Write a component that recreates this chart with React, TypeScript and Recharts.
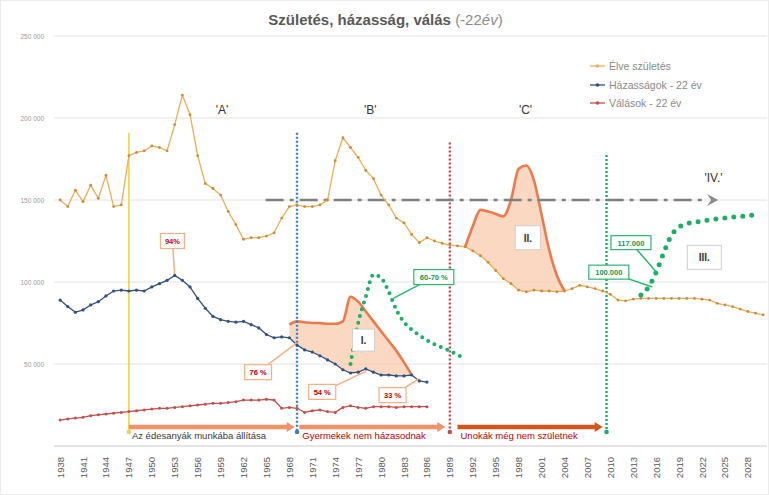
import React from 'react';
import { ComposedChart, Line, Area, XAxis, YAxis, CartesianGrid, ReferenceLine, ReferenceDot, Legend } from 'recharts';

const years = [1938,1939,1940,1941,1942,1943,1944,1945,1946,1947,1948,1949,1950,1951,1952,1953,1954,1955,1956,1957,1958,1959,1960,1961,1962,1963,1964,1965,1966,1967,1968,1969,1970,1971,1972,1973,1974,1975,1976,1977,1978,1979,1980,1981,1982,1983,1984,1985,1986,1987,1988,1989,1990,1991,1992,1993,1994,1995,1996,1997,1998,1999,2000,2001,2002,2003,2004,2005,2006,2007,2008,2009,2010,2011,2012,2013,2014,2015,2016,2017,2018,2019,2020,2021,2022,2023,2024,2025,2026,2027,2028,2029,2030];

const births = [150000,146000,156000,149000,159000,151000,165000,146000,147000,177000,179000,180000,183000,182000,180000,196000,214000,202000,177000,160000,157000,153000,143000,135000,126000,127000,127000,128000,130000,139000,146000,147000,146000,146000,147000,150000,174000,188000,182000,176000,168000,163000,153000,147000,139000,136000,129000,124000,127000,125000,123500,122500,122000,121500,119000,116000,112000,107000,102000,99000,95000,94000,95000,94500,94500,94000,94500,96000,98000,97000,96000,94500,92500,89000,88500,89500,90000,90000,90000,90000,90000,90000,90000,90000,89500,89000,87000,86000,85000,83500,82000,81000,80000];

const marriages = [89000,85000,81500,83000,86000,88000,91500,94500,95000,94500,95000,94500,97000,99000,101000,104000,101000,97000,90000,84000,79000,77000,76000,75500,76000,74000,72000,68000,66000,66500,66000,61600,58600,57300,55000,52500,50000,46500,44500,45000,47000,45000,43300,43300,42700,42700,43300,39700,39000];

const divorces = [15800,16500,17000,17500,18500,19000,19500,20000,20500,21000,21500,22000,22500,23000,23000,23500,24000,24500,25000,25500,26000,26000,26500,27000,28000,28000,28000,28500,28000,23000,23500,23000,20500,21500,22000,21000,20500,23500,24500,23500,23000,24000,24000,24000,23500,24000,24000,24000,24000];

const green1Years = [1976,1977,1978,1979,1980,1981,1982,1983,1984,1985,1986,1987,1988,1989,1990,1991];
const green1 = [50000,75000,91000,104500,102500,94000,83000,75500,71000,67500,64500,62000,60000,58000,55500,53500];

const green2Years = [2014,2015,2016,2017,2018,2019,2020,2021,2022,2023,2024,2025,2026,2027,2028,2029];
const green2 = [92000,97000,106000,118000,128500,133500,135500,136500,137000,138000,138500,139000,139500,140000,140500,141000];

const zone1Years = [1968,1969,1970,1971,1972,1973,1974,1975,1976,1977,1978,1979,1980,1981,1982,1983,1984];
const zone1Top = [74000,76000,75500,75000,75000,74500,74500,76000,91000,88000,82000,76000,70000,64000,58000,51000,43300];

const zone2Years = [1991,1992,1993,1994,1995,1996,1997,1998,1999,2000,2001,2002,2003,2004];
const zone2Top = [121500,134000,144000,143000,141500,140000,150000,169000,171000,162000,141000,119500,104000,94500];

const xTicks = [1938,1941,1944,1947,1950,1953,1956,1959,1962,1965,1968,1971,1974,1977,1980,1983,1986,1989,1992,1995,1998,2001,2004,2007,2010,2013,2016,2019,2022,2025,2028];
const yTicks = [0,50000,100000,150000,200000,250000];

const legendItems = [
  { label: 'Élve születés', color: '#EBAE5A' },
  { label: 'Házasságok - 22 év', color: '#34507F' },
  { label: 'Válások - 22 év', color: '#C0504D' },
];

const phaseLabels = [
  { text: "'A'", year: 1959.2, value: 205000 },
  { text: "'B'", year: 1978.6, value: 205000 },
  { text: "'C'", year: 1998.9, value: 205000 },
  { text: "'IV.'", year: 2023.5, value: 163500 },
];

const verticalMarkers = [
  { year: 1947, top: 191000, bottom: 8500, color: '#F5D245', dash: undefined },
  { year: 1969, top: 191000, bottom: 8500, color: '#3F7FC0', dash: '2 2' },
  { year: 1989, top: 185000, bottom: 8500, color: '#C0504D', dash: '2 2' },
  { year: 2009.5, top: 177500, bottom: 8500, color: '#1DAA64', dash: '2 2' },
];

const bottomArrows = [
  { from: 1947, to: 1968.7, value: 11600, color: '#F0916A', text: 'Az édesanyák munkába állítása', textColor: '#3a3a3a' },
  { from: 1969.3, to: 1988.4, value: 11600, color: '#F0916A', text: 'Gyermekek nem házasodnak', textColor: '#C00000' },
  { from: 1990, to: 2009, value: 11600, color: '#D4561C', text: 'Unokák még nem születnek', textColor: '#C00000' },
];

const callouts = [
  { text: '94%', year: 1953, value: 104000, boxYear: 1952.7, boxValue: 125000, w: 24, h: 15, color: '#C00000', border: '#F4B183' },
  { text: '76 %', year: 1969, value: 63000, boxYear: 1963.9, boxValue: 45000, w: 27, h: 15, color: '#C00000', border: '#F4B183' },
  { text: '54 %', year: 1978, value: 45500, boxYear: 1972.3, boxValue: 33000, w: 27, h: 15, color: '#C00000', border: '#F4B183' },
  { text: '33 %', year: 1985, value: 41000, boxYear: 1981.5, boxValue: 31000, w: 27, h: 15, color: '#C00000', border: '#F4B183' },
  { text: '60-70 %', year: 1981.6, value: 90000, boxYear: 1986.9, boxValue: 103000, w: 40, h: 15, color: '#0E9A55', border: '#2DB56F' },
  { text: '117.000', year: 2016.2, value: 105000, boxYear: 2012.7, boxValue: 124000, w: 40, h: 14, color: '#0E9A55', border: '#2DB56F' },
  { text: '100.000', year: 2015.5, value: 97000, boxYear: 2009.8, boxValue: 106000, w: 40, h: 14, color: '#0E9A55', border: '#2DB56F' },
];

const zoneLabels = [
  { text: 'I.', year: 1977.7, value: 64600, w: 22, h: 22 },
  { text: 'II.', year: 1999.2, value: 127000, w: 25, h: 24 },
  { text: 'III.', year: 2022.3, value: 115000, w: 34, h: 24 },
];

const fmt = (v: number) => (v === 0 ? '' : String(v).replace(/\B(?=(\d{3})+(?!\d))/g, ' '));

const data = years.map((year, i) => {
  const row: any = { year, birth: births[i] };
  if (i < marriages.length) row.marriage = marriages[i];
  if (i < divorces.length) row.divorce = divorces[i];
  const g1 = green1Years.indexOf(year);
  if (g1 >= 0) row.green1 = green1[g1];
  const g2 = green2Years.indexOf(year);
  if (g2 >= 0) row.green2 = green2[g2];
  const z1 = zone1Years.indexOf(year);
  if (z1 >= 0) {
    row.zone1 = [marriages[i], zone1Top[z1]];
    row.zone1Top = zone1Top[z1];
  }
  const z2 = zone2Years.indexOf(year);
  if (z2 >= 0) {
    row.zone2 = [births[i], zone2Top[z2]];
    row.zone2Top = zone2Top[z2];
  }
  return row;
});

const FONT = '"Liberation Sans", Arial, sans-serif';

const XTick = (p: any) => (
  <text x={p.x} y={p.y + 3} transform={`rotate(-90 ${p.x} ${p.y + 3})`} textAnchor="end" dominantBaseline="central" fontSize={9.5} fill="#595959" fontFamily={FONT}>
    {p.payload.value}
  </text>
);

const YTick = (p: any) => (
  <text x={p.x} y={p.y} textAnchor="end" dominantBaseline="central" fontSize={6.5} fill="#9a9a9a" fontFamily={FONT} style={{ whiteSpace: 'pre' }}>
    {fmt(p.payload.value)}
  </text>
);

const LegendContent = () => (
  <div style={{ fontFamily: FONT, fontSize: 10.5, color: '#8a8a8a', lineHeight: '18.5px' }}>
    {legendItems.map((it) => (
      <div key={it.label} style={{ display: 'flex', alignItems: 'center' }}>
        <svg width={18} height={10} style={{ marginRight: 2 }}>
          <line x1={1} y1={5} x2={16} y2={5} stroke={it.color} strokeWidth={1.3} />
          <circle cx={8.5} cy={5} r={1.8} fill={it.color} />
        </svg>
        <span>{it.label}</span>
      </div>
    ))}
  </div>
);

export default function App() {
  return (
    <div style={{ position: 'absolute', left: 0, top: 0, width: 769, height: 495, background: '#fff', boxSizing: 'border-box', border: '1px solid #ececec', fontFamily: FONT }}>
      <div style={{ position: 'absolute', left: 0, top: 10, width: 769, textAlign: 'center', fontSize: 15, fontWeight: 700, color: '#595959', zIndex: 2, fontFamily: FONT }}>
        <span style={{ background: '#fff', padding: '0 4px' }}>
          Születés, házasság, válás <span style={{ fontWeight: 400, color: '#8c8c8c' }}>(-22<i>év</i>)</span>
        </span>
      </div>
      <div style={{ position: 'absolute', left: -1, top: -1 }}>
        <ComposedChart width={769} height={495} data={data} margin={{ top: 36, right: 2, bottom: 4, left: 4 }}>
          <CartesianGrid vertical={false} stroke="#E4E4E4" />
          <XAxis
            dataKey="year"
            type="number"
            domain={[1937.2, 2030.5]}
            ticks={xTicks}
            interval={0}
            tick={<XTick />}
            tickLine={false}
            axisLine={{ stroke: '#D9D9D9' }}
            height={45}
            allowDataOverflow
          />
          <YAxis
            domain={[0, 250000]}
            ticks={yTicks}
            tick={<YTick />}
            tickLine={false}
            axisLine={false}
            width={50}
            tickMargin={4}
          />
          <Legend layout="vertical" align="center" verticalAlign="middle" content={<LegendContent />} wrapperStyle={{ top: 57, left: 589, width: 170 }} />

          <Area dataKey="zone1" type="monotone" stroke="none" fill="#F9C7A8" fillOpacity={0.7} isAnimationActive={false} activeDot={false} legendType="none" />
          <Area dataKey="zone2" type="monotone" stroke="none" fill="#F9C7A8" fillOpacity={0.7} isAnimationActive={false} activeDot={false} legendType="none" />
          <Line dataKey="zone1Top" type="monotone" stroke="#EB7A4F" strokeWidth={2.6} dot={false} isAnimationActive={false} legendType="none" />
          <Line dataKey="zone2Top" type="monotone" stroke="#EB7A4F" strokeWidth={2.6} dot={false} isAnimationActive={false} legendType="none" />

          {verticalMarkers.map((m) => (
            <ReferenceLine
              key={m.year}
              segment={[{ x: m.year, y: m.top }, { x: m.year, y: m.bottom }]}
              shape={(p: any) => (
                <g>
                  <line x1={p.x1} y1={p.y1} x2={p.x2} y2={p.y2} stroke={m.color} strokeWidth={m.dash ? 2.4 : 1.6} strokeDasharray={m.dash} />
                  <circle cx={p.x2} cy={p.y2} r={2.3} fill={m.color} />
                </g>
              )}
            />
          ))}

          <ReferenceLine
            segment={[{ x: 1964.9, y: 150000 }, { x: 2022.4, y: 150000 }]}
            shape={(p: any) => (
              <g>
                <line x1={p.x1} y1={p.y1} x2={p.x2} y2={p.y2} stroke="#7F7F7F" strokeWidth={2.6} strokeDasharray="18 6 4 6" />
                <polygon points={`${p.x2 + 2},${p.y2 - 6} ${p.x2 + 13},${p.y2} ${p.x2 + 2},${p.y2 + 6} ${p.x2 + 6},${p.y2}`} fill="#8a8a8a" />
              </g>
            )}
          />

          {bottomArrows.map((a) => (
            <ReferenceLine
              key={a.text}
              segment={[{ x: a.from, y: a.value }, { x: a.to, y: a.value }]}
              shape={(p: any) => (
                <g>
                  <line x1={p.x1} y1={p.y1} x2={p.x2 - 6} y2={p.y2} stroke={a.color} strokeWidth={4.5} />
                  <polygon points={`${p.x2 - 8},${p.y2 - 5} ${p.x2},${p.y2} ${p.x2 - 8},${p.y2 + 5}`} fill={a.color} />
                  <text x={p.x1 + 3} y={p.y1 + 12} fontSize={9.5} fill={a.textColor} fontFamily={FONT}>{a.text}</text>
                </g>
              )}
            />
          ))}

          <Line dataKey="birth" type="linear" stroke="#EBAE5A" strokeWidth={1.3} dot={{ r: 1.4, fill: '#C98A3A', stroke: 'none' }} isAnimationActive={false} name="Élve születés" />
          <Line dataKey="marriage" type="linear" stroke="#34507F" strokeWidth={1.3} dot={{ r: 1.6, fill: '#34507F', stroke: 'none' }} isAnimationActive={false} name="Házasságok - 22 év" />
          <Line dataKey="divorce" type="linear" stroke="#C0504D" strokeWidth={1.3} dot={{ r: 1.5, fill: '#C0504D', stroke: 'none' }} isAnimationActive={false} name="Válások - 22 év" />
          <Line dataKey="green1" type="monotone" stroke="#1DAF68" strokeWidth={4} strokeDasharray="0 7" strokeLinecap="round" dot={false} isAnimationActive={false} legendType="none" />
          <Line dataKey="green2" type="monotone" stroke="#1DAF68" strokeWidth={5} strokeDasharray="0 9" strokeLinecap="round" dot={false} isAnimationActive={false} legendType="none" />

          {callouts.map((c) => (
            <ReferenceLine
              key={c.text}
              segment={[{ x: c.year, y: c.value }, { x: c.boxYear, y: c.boxValue }]}
              shape={(p: any) => (
                <g>
                  <line x1={p.x1} y1={p.y1} x2={p.x2} y2={p.y2} stroke={c.border} strokeWidth={1.5} />
                  <rect x={p.x2 - c.w / 2} y={p.y2 - c.h / 2} width={c.w} height={c.h} fill="#fff" stroke={c.border} strokeWidth={1.2} />
                  <text x={p.x2} y={p.y2 + 0.5} textAnchor="middle" dominantBaseline="central" fontSize={7.5} fontWeight={700} fill={c.color} fontFamily={FONT}>{c.text}</text>
                </g>
              )}
            />
          ))}

          {zoneLabels.map((z) => (
            <ReferenceDot
              key={z.text}
              x={z.year}
              y={z.value}
              shape={(p: any) => (
                <g>
                  <rect x={p.cx - z.w / 2} y={p.cy - z.h / 2} width={z.w} height={z.h} fill="#fff" stroke="#D0D0D0" strokeWidth={1} />
                  <text x={p.cx} y={p.cy + 0.5} textAnchor="middle" dominantBaseline="central" fontSize={10} fontWeight={700} fill="#333" fontFamily={FONT}>{z.text}</text>
                </g>
              )}
            />
          ))}

          {phaseLabels.map((l) => (
            <ReferenceDot
              key={l.text}
              x={l.year}
              y={l.value}
              shape={(p: any) => (
                <text x={p.cx} y={p.cy} textAnchor="middle" dominantBaseline="central" fontSize={12} fill="#333" fontFamily={FONT}>{l.text}</text>
              )}
            />
          ))}
        </ComposedChart>
      </div>
    </div>
  );
}
